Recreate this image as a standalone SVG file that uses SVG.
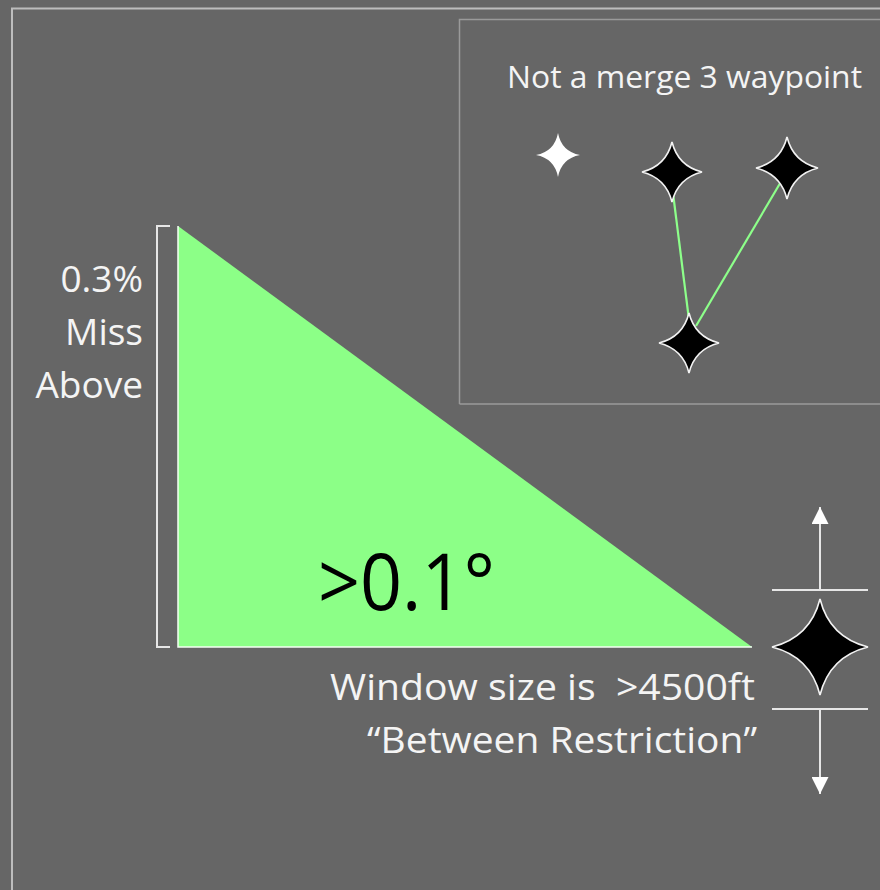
<svg xmlns="http://www.w3.org/2000/svg" width="880" height="890" viewBox="0 0 880 890">
<style>
.txt{font-family:"Open Sans","Liberation Sans",sans-serif;fill:#f4f4f4}
.frame{fill:none;stroke:#bdbdbd;stroke-width:2}
.wp{fill:#000;stroke:#f2f2f2;stroke-width:1.6}
.wpw{fill:#fff;stroke:none}
.gline{stroke:#8dff8a;stroke-width:2.2;fill:none}
.wline{stroke:#e6e6e6;stroke-width:2;fill:none}
</style>
<defs>
<marker id="ah" viewBox="0 0 10 10" refX="10" refY="5" markerWidth="17" markerHeight="17" markerUnits="userSpaceOnUse" orient="auto">
<path d="M0,0 L10,5 L0,10 Z" fill="#fff"/>
</marker>
</defs>
<rect width="880" height="890" fill="#666666"/>
<g id="outer-frame"><path class="frame" d="M12,890 V8.5 H880"/></g>
<g id="inset">
<path d="M459.5,404 V19.5 H880 M459.5,404 H880" fill="none" stroke="#9a9a9a" stroke-width="1.5"/>
<text class="txt" x="507" y="88" font-size="31" textLength="355" lengthAdjust="spacingAndGlyphs">Not a merge 3 waypoint</text>
</g>
<g id="connectors">
<line class="gline" x1="673" y1="193" x2="689" y2="320"/>
<line class="gline" x1="782" y1="180" x2="696" y2="326"/>
</g>
<g id="wp-white"><path class="wpw" d="M558,133 Q561.5,151.5 580,155 Q561.5,158.5 558,177 Q554.5,158.5 536,155 Q554.5,151.5 558,133Z"/></g>
<g id="wp-a"><path class="wp" d="M672,142 Q678,166 702,172 Q678,178 672,202 Q666,178 642,172 Q666,166 672,142Z"/></g>
<g id="wp-b"><path class="wp" d="M787,137 Q793.2,161.8 818,168 Q793.2,174.2 787,199 Q780.8,174.2 756,168 Q780.8,161.8 787,137Z"/></g>
<g id="wp-c"><path class="wp" d="M689,313 Q695,337 719,343 Q695,349 689,373 Q683,349 659,343 Q683,337 689,313Z"/></g>
<g id="bracket"><path class="wline" d="M170,226 H157 V647 H170"/></g>
<g id="miss-label">
<text class="txt" x="143" y="292" font-size="37" text-anchor="end">0.3%</text>
<text class="txt" x="143" y="345" font-size="37" text-anchor="end">Miss</text>
<text class="txt" x="143" y="398" font-size="37" text-anchor="end">Above</text>
</g>
<g id="triangle">
<polygon points="178,226 178,647 752,647" fill="#8cff87"/>
<path d="M178,226 V647 H752" fill="none" stroke="#f4fff4" stroke-width="1.5"/>
<text x="318" y="610" font-size="78" font-family="'Open Sans','Liberation Sans',sans-serif" fill="#000" textLength="177" lengthAdjust="spacingAndGlyphs">&gt;0.1°</text>
</g>
<g id="window-label">
<text class="txt" x="755" y="700" font-size="36" text-anchor="end" textLength="425" lengthAdjust="spacingAndGlyphs">Window size is&#160; &gt;4500ft</text>
<text class="txt" x="757" y="753" font-size="36" text-anchor="end" textLength="390" lengthAdjust="spacingAndGlyphs">“Between Restriction”</text>
</g>
<g id="window">
<line class="wline" x1="772" y1="590" x2="868" y2="590"/>
<line class="wline" x1="772" y1="709" x2="868" y2="709"/>
<line class="wline" x1="820" y1="590" x2="820" y2="507" marker-end="url(#ah)"/>
<line class="wline" x1="820" y1="709" x2="820" y2="794" marker-end="url(#ah)"/>
</g>
<g id="wp-main"><path class="wp" d="M820,599 Q829.6,637.4 868,647 Q829.6,656.6 820,695 Q810.4,656.6 772,647 Q810.4,637.4 820,599Z"/></g>
</svg>
